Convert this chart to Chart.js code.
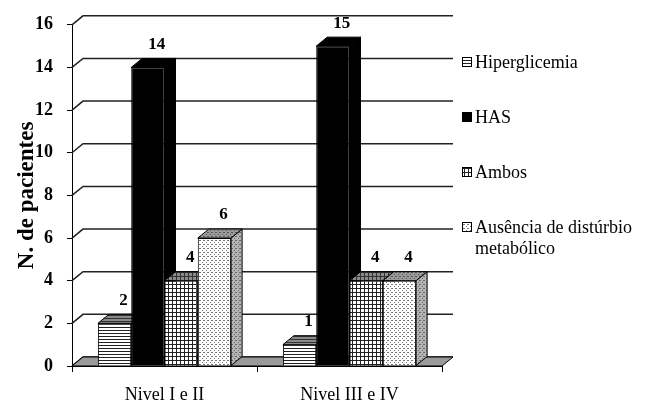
<!DOCTYPE html>
<html>
<head>
<meta charset="utf-8">
<script src="https://cdn.jsdelivr.net/npm/chart.js@4"></script>
<style>
  html, body { margin: 0; padding: 0; background: #fff; }
  #wrap { width: 650px; height: 403px; }
</style>
</head>
<body>
<div id="wrap"><canvas id="chart" width="650" height="403"></canvas></div>
<script>
// dados do gráfico
const categories = ['Nivel I e II', 'Nivel III e IV'];
const seriesNames = ['Hiperglicemia', 'HAS', 'Ambos', 'Ausência de distúrbio metabólico'];
const hiperglicemia = [2, 1];
const has = [14, 15];
const ambos = [4, 4];
const ausencia = [6, 4];
const yTickValues = [0, 2, 4, 6, 8, 10, 12, 14, 16];

const FONT = 'Liberation Serif';
const DX = 11, DY = -9; // profundidade do efeito 3D

const canvas = document.getElementById('chart');
const ctx = canvas.getContext('2d');

// padrões de preenchimento
function makePattern(kind, bg, fg) {
    const c = document.createElement('canvas');
    c.width = 4;
    c.height = kind === 'lines' ? 3 : 4;
    const g = c.getContext('2d');
    g.fillStyle = bg;
    g.fillRect(0, 0, c.width, c.height);
    g.fillStyle = fg;
    if (kind === 'lines') g.fillRect(0, 0, 4, 1);
    if (kind === 'grid') { g.fillRect(0, 0, 4, 1); g.fillRect(0, 0, 1, 4); }
    if (kind === 'dots') { g.fillRect(0, 0, 1, 1); g.fillRect(2, 2, 1, 1); g.fillRect(3, 0, 1, 1); }
    return ctx.createPattern(c, 'repeat');
}

const frontFill = [
    makePattern('lines', '#fff', '#222'),
    '#000',
    makePattern('grid', '#fff', '#222'),
    makePattern('dots', '#fff', '#777')
];
const sideFill = [
    makePattern('lines', '#a8a8a8', '#555'),
    '#000',
    makePattern('grid', '#a8a8a8', '#555'),
    makePattern('dots', '#b4b4b4', '#666')
];
const topFill = [
    makePattern('lines', '#8a8a8a', '#333'),
    '#000',
    makePattern('grid', '#8a8a8a', '#333'),
    makePattern('dots', '#9a9a9a', '#555')
];

function poly(c, pts, fill) {
    c.beginPath();
    c.moveTo(pts[0][0], pts[0][1]);
    for (let i = 1; i < pts.length; i++) c.lineTo(pts[i][0], pts[i][1]);
    c.closePath();
    c.fillStyle = fill;
    c.fill();
    c.stroke();
}

// parede do fundo, piso e faces laterais/superiores das barras
const backWall = {
    id: 'backWall',
    beforeDatasetsDraw(chart) {
        const { ctx, chartArea: a, scales: { y } } = chart;
        const b = y.getPixelForValue(0);
        ctx.save();
        ctx.strokeStyle = '#222';
        ctx.lineWidth = 1.5;
        y.ticks.forEach(t => {
            const py = y.getPixelForValue(t.value);
            ctx.beginPath();
            ctx.moveTo(a.left, py);
            ctx.lineTo(a.left + DX, py + DY);
            ctx.lineTo(a.right + DX, py + DY);
            ctx.stroke();
        });
        ctx.lineWidth = 1;
        ctx.strokeStyle = '#000';
        poly(ctx, [[a.left, b], [a.right, b], [a.right + DX, b + DY], [a.left + DX, b + DY]], '#9a9a9a');

        chart.data.datasets.forEach((ds, i) => {
            chart.getDatasetMeta(i).data.forEach(bar => {
                const p = bar.getProps(['x', 'y', 'base', 'width'], true);
                const l = p.x - p.width / 2, r = p.x + p.width / 2;
                poly(ctx, [[r, p.y], [r + DX, p.y + DY], [r + DX, p.base + DY], [r, p.base]], sideFill[i]);
                poly(ctx, [[l, p.y], [l + DX, p.y + DY], [r + DX, p.y + DY], [r, p.y]], topFill[i]);
            });
        });
        ctx.restore();
    },
    afterDatasetsDraw(chart) {
        const { ctx } = chart;
        ctx.save();
        ctx.font = 'bold 17px ' + FONT;
        ctx.fillStyle = '#000';
        ctx.textAlign = 'center';
        ctx.textBaseline = 'middle';
        chart.data.datasets.forEach((ds, i) => {
            chart.getDatasetMeta(i).data.forEach((bar, j) => {
                ctx.fillText(String(ds.data[j]), bar.x + 9, bar.y - 23);
            });
        });
        ctx.restore();
    },
    afterDraw(chart) {
        // legenda à direita
        const { ctx } = chart;
        ctx.save();
        ctx.font = 'normal 18px ' + FONT;
        ctx.textBaseline = 'middle';
        ctx.textAlign = 'left';
        const x0 = 462, tx = 475, maxW = 172;
        chart.data.datasets.forEach((ds, i) => {
            const cy = 62 + i * 55;
            ctx.strokeStyle = '#000';
            ctx.lineWidth = 1;
            ctx.fillStyle = frontFill[i];
            ctx.fillRect(x0, cy - 5, 10, 10);
            ctx.strokeRect(x0 + 0.5, cy - 4.5, 9, 9);
            ctx.fillStyle = '#000';
            const words = ds.label.split(' ');
            const lines = [];
            let cur = '';
            words.forEach(w => {
                const test = cur ? cur + ' ' + w : w;
                if (ctx.measureText(test).width > maxW && cur) { lines.push(cur); cur = w; }
                else cur = test;
            });
            lines.push(cur);
            lines.forEach((ln, k) => ctx.fillText(ln, tx, cy + 1 + k * 21));
        });
        ctx.restore();
    }
};

const values = [hiperglicemia, has, ambos, ausencia];

new Chart(ctx, {
    type: 'bar',
    data: {
        labels: categories,
        datasets: seriesNames.map((name, i) => ({
            label: name,
            data: values[i],
            backgroundColor: frontFill[i],
            borderColor: '#000',
            borderWidth: 1,
            categoryPercentage: 0.72,
            barPercentage: 1
        }))
    },
    options: {
        responsive: false,
        animation: false,
        devicePixelRatio: 1,
        layout: { padding: { top: 22, right: 208, left: 0, bottom: 0 } },
        plugins: {
            legend: { display: false },
            tooltip: { enabled: false }
        },
        scales: {
            x: {
                offset: true,
                grid: { offset: true, drawOnChartArea: false, tickLength: 6, color: '#000' },
                border: { color: '#000' },
                ticks: { font: { family: FONT, size: 18 }, color: '#000', padding: 12 },
                afterFit: s => { s.height = 37; }
            },
            y: {
                min: 0,
                max: 16,
                afterBuildTicks: s => { s.ticks = yTickValues.map(v => ({ value: v })); },
                ticks: { font: { family: FONT, size: 18, weight: 'bold' }, color: '#000', padding: 14 },
                grid: { drawOnChartArea: false, tickLength: 5, color: '#000' },
                border: { color: '#000' },
                title: {
                    display: true,
                    text: 'N. de pacientes',
                    font: { family: FONT, size: 23, weight: 'bold' },
                    color: '#000',
                    padding: { top: 13, bottom: 0 }
                },
                afterFit: s => { s.width = 72; }
            }
        }
    },
    plugins: [backWall]
});
</script>
</body>
</html>
